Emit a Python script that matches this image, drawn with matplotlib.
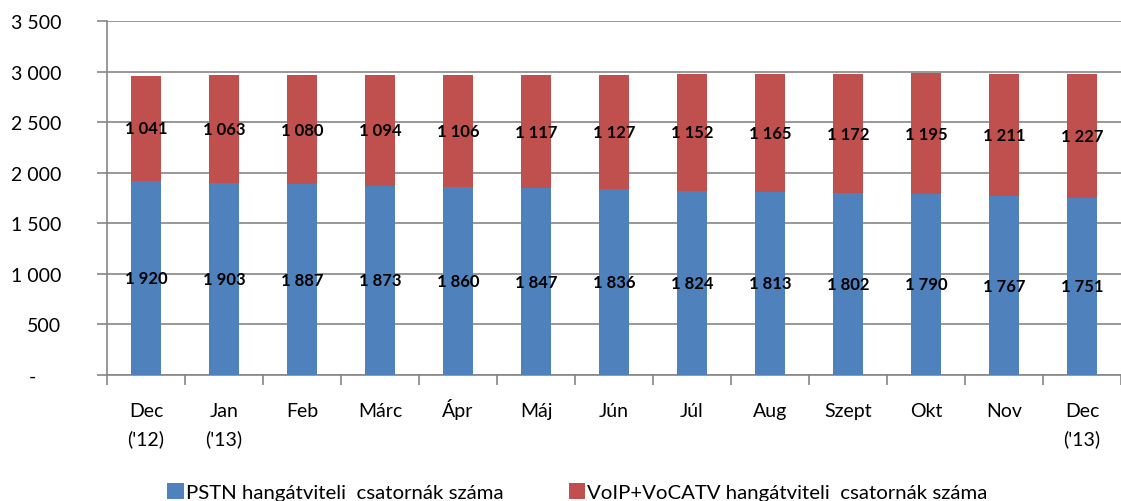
import matplotlib
matplotlib.use("Agg")
import matplotlib.pyplot as plt
import numpy as np
from matplotlib.ticker import FuncFormatter

plt.rcParams["font.family"] = ["Lato", "DejaVu Sans"]

# ── 数据 ─────────────────────────
months = ["Dec\n('12)", "Jan\n('13)", "Feb", "Márc", "Ápr", "Máj", "Jún",
          "Júl", "Aug", "Szept", "Okt", "Nov", "Dec\n('13)"]
pstn = [1920, 1903, 1887, 1873, 1860, 1847, 1836, 1824, 1813, 1802, 1790, 1767, 1751]
voip = [1041, 1063, 1080, 1094, 1106, 1117, 1127, 1152, 1165, 1172, 1195, 1211, 1227]
series_names = ["PSTN hangátviteli  csatornák száma",
                "VoIP+VoCATV hangátviteli  csatornák száma"]

BLUE = "#4F81BD"
RED = "#C0504D"
GRID = "#868686"


def fmt_thousands(v, pos=None):
    if v == 0:
        return "-     "
    return f"{int(v):,}".replace(",", " ")


fig = plt.figure(figsize=(11.21, 5.02), dpi=100)
ax = fig.add_axes([0.0955, 0.251, 0.9045, 0.705])

x = np.arange(len(months))
w = 0.385
b1 = ax.bar(x, pstn, w, color=BLUE, label=series_names[0], zorder=3)
b2 = ax.bar(x, voip, w, bottom=pstn, color=RED, label=series_names[1], zorder=3)

for i in range(len(months)):
    ax.text(x[i], pstn[i] / 2, fmt_thousands(pstn[i]), ha="center", va="center",
            fontsize=12, fontweight="bold", zorder=4)
    ax.text(x[i], pstn[i] + voip[i] / 2, fmt_thousands(voip[i]), ha="center",
            va="center", fontsize=12, fontweight="bold", zorder=4)

ax.set_xlim(-0.5, len(months) - 0.5)
ax.set_ylim(0, 3500)
ax.set_yticks(np.arange(0, 3501, 500))
ax.yaxis.set_major_formatter(FuncFormatter(fmt_thousands))
ax.yaxis.grid(True, color=GRID, linewidth=1.2, zorder=0)
ax.set_axisbelow(True)

# x 轴标签：逐行按基线对齐（避免重音字母把标签往下推）
ax.set_xticks(np.arange(-0.5, len(months), 1))
ax.set_xticklabels([])
ax.tick_params(axis="x", length=7, color=GRID, width=1.2, direction="out")
for i, m in enumerate(months):
    for j, line in enumerate(m.split("\n")):
        ax.annotate(line, (x[i], 0), xycoords=("data", "axes fraction"),
                    xytext=(0, -29.5 - j * 20.5), textcoords="offset points",
                    ha="center", va="baseline", fontsize=14)

ax.tick_params(axis="y", length=7, color=GRID, width=1.2, pad=26, labelsize=14)

for s in ["top", "right"]:
    ax.spines[s].set_visible(False)
for s in ["left", "bottom"]:
    ax.spines[s].set_color(GRID)
    ax.spines[s].set_linewidth(1.2)

fig.legend(handles=[b1, b2], loc="lower center", bbox_to_anchor=(0.515, -0.037),
           ncol=2, frameon=False, fontsize=14.7, handlelength=0.8, handleheight=0.8,
           handletextpad=0.1, columnspacing=3.2)

fig.savefig("out.png", dpi=100, facecolor="white")
